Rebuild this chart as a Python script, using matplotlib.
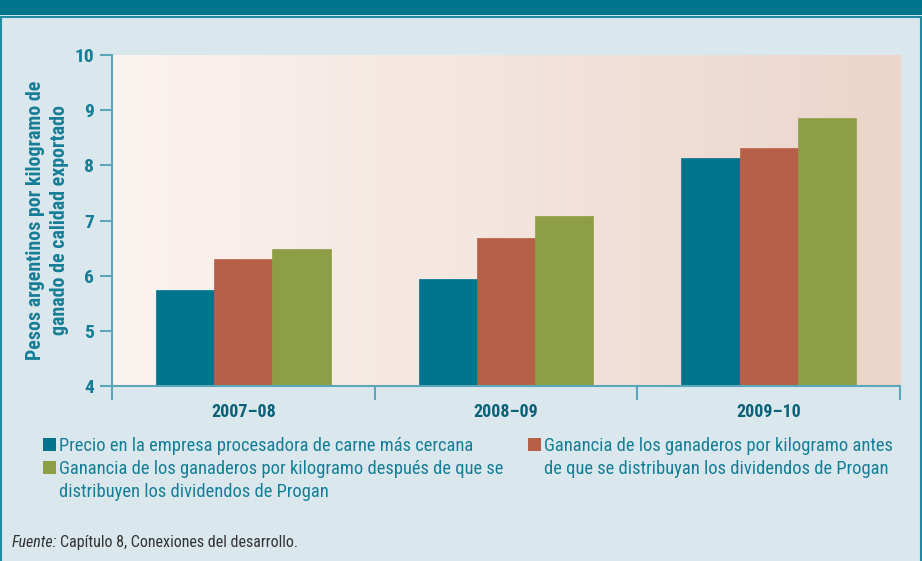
import matplotlib
matplotlib.use("Agg")
import matplotlib.pyplot as plt
import numpy as np
from matplotlib.patches import Rectangle
from matplotlib.colors import LinearSegmentedColormap

plt.rcParams['font.family'] = ['Roboto Condensed', 'DejaVu Sans']

categories = ["2007–08", "2008–09", "2009–10"]
precio = [5.74, 5.94, 8.14]
antes = [6.30, 6.68, 8.31]
despues = [6.48, 7.08, 8.85]
series_labels = [
    "Precio en la empresa procesadora de carne más cercana",
    "Ganancia de los ganaderos por kilogramo antes\nde que se distribuyan los dividendos de Progan",
    "Ganancia de los ganaderos por kilogramo después de que se\ndistribuyen los dividendos de Progan",
]
yticks = [4, 5, 6, 7, 8, 9, 10]
ylabel = "Pesos argentinos por kilogramo de\nganado de calidad exportado"
source_italic = "Fuente:"
source_rest = "Capítulo 8, Conexiones del desarrollo."

TEAL = "#00748C"
RED = "#B66048"
GREEN = "#8E9E44"
TXT = "#157E97"
BG = "#DAE8EE"
SPINE = "#5BA6B8"
LEG_FS = 13.3

W, H = 922, 561
fig = plt.figure(figsize=(W / 100, H / 100), dpi=100)
fig.patch.set_facecolor(BG)

# border and banner
fig.add_artist(Rectangle((1 / W, -0.01), (W - 2.5) / W, 0.98, transform=fig.transFigure,
                         facecolor="none", edgecolor="#1F8AA0", lw=1.5, zorder=1))
fig.add_artist(Rectangle((0, 1 - 15 / H), 1, 15 / H, transform=fig.transFigure,
                         facecolor="#00748C", edgecolor="none", zorder=2))

ax = fig.add_axes([112 / W, 1 - 386 / H, 788 / W, 331 / H])
ax.set_facecolor("none")
ax.set_xlim(-0.5, 2.5)
ax.set_ylim(4, 10)

cmap = LinearSegmentedColormap.from_list("g", ["#FBF3F0", "#F3E4DE", "#EBD5CA"])
grad = np.linspace(0, 1, 256).reshape(1, -1)
ax.imshow(grad, cmap=cmap, aspect="auto", extent=[-0.5, 2.5, 4, 10], zorder=0)

x = np.arange(len(categories))
bw = 0.222
for off, vals, col in [(-bw, precio, TEAL), (0, antes, RED), (bw, despues, GREEN)]:
    ax.bar(x + off, np.array(vals) - 4, bw, bottom=4, color=col, zorder=2,
           edgecolor=col, linewidth=0.5)

for s in ["top", "right"]:
    ax.spines[s].set_visible(False)
for s in ["left", "bottom"]:
    ax.spines[s].set_color(SPINE)
    ax.spines[s].set_linewidth(1.5)

ax.set_yticks(yticks)
ax.set_yticklabels([str(v) for v in yticks])
ax.tick_params(axis="y", length=9, width=1.5, color=SPINE, labelsize=14,
               labelcolor=TXT, pad=4)
for lab in ax.get_yticklabels():
    lab.set_fontweight("bold")

ax.set_xticks(x)
ax.set_xticklabels(categories)
ax.tick_params(axis="x", which="major", length=0, labelsize=13, labelcolor="#0B6178", pad=12)
for lab in ax.get_xticklabels():
    lab.set_fontweight("bold")
ax.set_xticks([-0.5, 0.5, 1.5, 2.5], minor=True)
ax.tick_params(axis="x", which="minor", length=10, width=1.5, color=SPINE)

fig.text(47.5 / W, 1 - 220 / H, ylabel, rotation=90, ha="center", va="center",
         fontsize=14.3, fontweight="bold", color=TXT, linespacing=1.3)

# legend
def legend_item(xs, ys, color, text):
    fig.add_artist(Rectangle((xs / W, 1 - (ys + 6.5) / H), 13 / W, 13 / H,
                             transform=fig.transFigure, facecolor=color, edgecolor="none"))
    fig.text((xs + 16) / W, 1 - ys / H, text, ha="left", va="center_baseline",
             fontsize=LEG_FS, color=TXT)

legend_item(43, 444, TEAL, series_labels[0])
legend_item(43, 467, GREEN, series_labels[2].split("\n")[0])
fig.text(59 / W, 1 - 490 / H, series_labels[2].split("\n")[1], ha="left",
         va="center_baseline", fontsize=LEG_FS, color=TXT)
legend_item(528, 444, RED, series_labels[1].split("\n")[0])
fig.text(544 / W, 1 - 467 / H, series_labels[1].split("\n")[1], ha="left",
         va="center_baseline", fontsize=LEG_FS, color=TXT)

t = fig.text(12 / W, 1 - 541 / H, source_italic, ha="left", va="center_baseline",
             fontsize=11.5, style="italic", color="#333333")
fig.canvas.draw()
bb = t.get_window_extent()
fig.text((bb.x1 + 3) / W, 1 - 541 / H, source_rest, ha="left", va="center_baseline",
         fontsize=11.5, color="#333333")

fig.savefig("out.png", dpi=100, facecolor=fig.get_facecolor())
